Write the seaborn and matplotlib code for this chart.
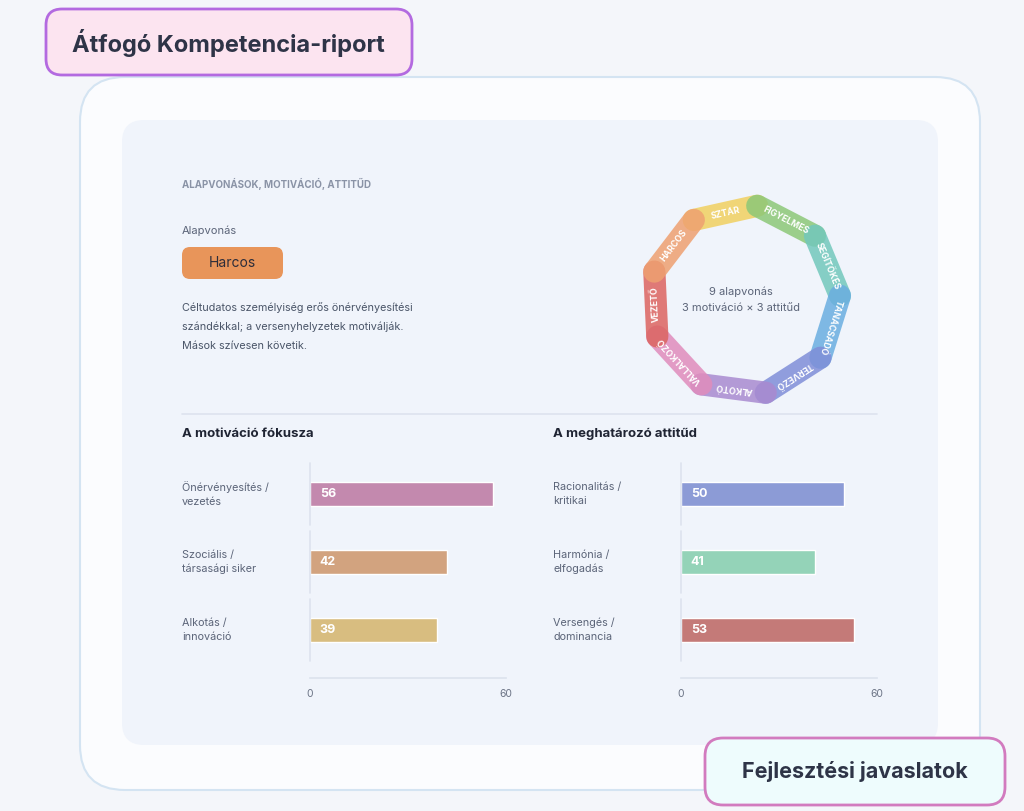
import numpy as np
import pandas as pd
import matplotlib; matplotlib.use("Agg")
import matplotlib.pyplot as plt
from matplotlib.patches import FancyBboxPatch
import seaborn as sns

sns.set_theme(style="white")
plt.rcParams["font.family"] = ["Inter", "DejaVu Sans"]

# ── Adatok ───────────────────────────────────────────────────────────────
motiv_labels = ["Önérvényesítés /\nvezetés", "Szociális /\ntársasági siker", "Alkotás /\ninnováció"]
motiv_values = [56, 42, 39]
motiv_colors = ["#c389ae", "#d2a37f", "#d8bd80"]

attit_labels = ["Racionalitás /\nkritikai", "Harmónia /\nelfogadás", "Versengés /\ndominancia"]
attit_values = [50, 41, 53]
attit_colors = ["#8c9bd6", "#94d3b8", "#c47a78"]

ring_labels = ["SZTÁR", "FIGYELMES", "SEGÍTŐKÉS", "TANÁCSADÓ", "TERVEZŐ",
               "ALKOTÓ", "VÁLLALKOZÓ", "VEZETŐ", "HARCOS"]
ring_colors = ["#f0d060", "#8cc878", "#72c8bc", "#6aaee0", "#7f8ed8",
               "#a98ad0", "#e08cbc", "#dc6460", "#eea070"]

W, H = 1024, 811
fig = plt.figure(figsize=(W / 100, H / 100), dpi=100)
fig.patch.set_facecolor("#f4f6fa")
bg = fig.add_axes([0, 0, 1, 1])
bg.set_xlim(0, W); bg.set_ylim(H, 0); bg.axis("off")


def rbox(x0, y0, x1, y1, fc, ec, lw=1.2, r=20):
    bg.add_patch(FancyBboxPatch((x0, y0), x1 - x0, y1 - y0,
                                boxstyle=f"round,pad=0,rounding_size={r}",
                                fc=fc, ec=ec, lw=lw))


# kártya + belső panel
rbox(80, 77, 980, 790, "#fbfcfe", "#d4e4f2", 1.5, 45)
rbox(122, 120, 938, 745, "#f0f4fb", "none", 0, 22)

# fejléc doboz
rbox(46, 9, 412, 75, "#fce4f0", "#b36ae0", 2, 16)
bg.text(72, 43, "Átfogó Kompetencia-riport", fontsize=17, fontweight="bold",
        color="#2e3447", va="center")
# alsó gomb
rbox(705, 738, 1005, 805, "#eefcfd", "#d27bbf", 2, 18)
bg.text(855, 772, "Fejlesztési javaslatok", fontsize=15.5, fontweight="bold",
        color="#2e3447", va="center", ha="center")

bg.text(182, 184, "ALAPVONÁSOK, MOTIVÁCIÓ, ATTITŰD", fontsize=7, fontweight="bold",
        color="#8a93a6", va="center")
bg.text(182, 231, "Alapvonás", fontsize=8, color="#5b6478", va="center")
rbox(182, 247, 283, 279, "#e8955a", "none", 0, 8)
bg.text(232, 263, "Harcos", fontsize=10, color="#2d2d3a", ha="center", va="center")
desc = ["Céltudatos személyiség erős önérvényesítési",
        "szándékkal; a versenyhelyzetek motiválják.",
        "Mások szívesen követik."]
for i, line in enumerate(desc):
    bg.text(182, 308 + 19 * i, line, fontsize=7.8, color="#4a5568", va="center")

bg.plot([182, 877], [414, 414], color="#dde3ee", lw=1.2)
bg.text(182, 434, "A motiváció fókusza", fontsize=9.5, fontweight="bold",
        color="#1f2433", va="center")
bg.text(553, 434, "A meghatározó attitűd", fontsize=9.5, fontweight="bold",
        color="#1f2433", va="center")

# ── Gyűrű (kilencszög) ────────────────────────────────────────────────────
cx, cy, R = 745, 300, 95
angles = np.deg2rad(122.6 - 40 * np.arange(10))
vx = cx + R * np.cos(angles)
vy = cy - R * np.sin(angles)
for i, (lab, col) in enumerate(zip(ring_labels, ring_colors)):
    bg.plot([vx[i], vx[i + 1]], [vy[i], vy[i + 1]], color=col, lw=16,
            alpha=0.85, solid_capstyle="round")
    ang = np.degrees(np.arctan2(-(vy[i + 1] - vy[i]), vx[i + 1] - vx[i]))
    bg.text((vx[i] + vx[i + 1]) / 2, (vy[i] + vy[i + 1]) / 2, lab, rotation=ang,
            rotation_mode="anchor", ha="center", va="center", fontsize=6.3,
            fontweight="bold", color="white")
bg.text(741, 292, "9 alapvonás", fontsize=8, color="#5b6478", ha="center", va="center")
bg.text(741, 308, "3 motiváció × 3 attitűd", fontsize=8, color="#5b6478",
        ha="center", va="center")


# ── Oszlopdiagramok ──────────────────────────────────────────────────────
def bar_panel(x0, labels, values, colors, label_x):
    ax = fig.add_axes([x0 / W, 1 - 677.6 / H, 196 / W, 217.6 / H])
    df = pd.DataFrame({"cat": labels, "val": values})
    sns.barplot(data=df, x="val", y="cat", hue="cat", palette=colors,
                legend=False, width=0.35, ax=ax, saturation=1)
    ax.set_xlim(0, 60); ax.set_ylim(2.7, -0.5)
    ax.patch.set_alpha(0)
    for s in ["top", "right", "left"]:
        ax.spines[s].set_visible(False)
    ax.spines["bottom"].set_color("#dde3ee")
    for i in range(len(values)):
        ax.plot([0, 0], [i - 0.45, i + 0.45], color="#dde3ee", lw=1.2, clip_on=False)
    ax.set_xticks([0, 60]); ax.set_yticks([])
    ax.tick_params(axis="x", length=0, labelsize=7.5, labelcolor="#6b7385", pad=8)
    ax.set_xlabel(""); ax.set_ylabel("")
    for i, v in enumerate(values):
        ax.text(3, i, str(v), color="white", fontweight="bold", fontsize=9, va="center")
        bg.text(label_x, 494 + 68 * i, labels[i], fontsize=7.8, color="#5b6478",
                va="center", linespacing=1.5)
    return ax


bar_panel(310, motiv_labels, motiv_values, motiv_colors, 182)
bar_panel(681, attit_labels, attit_values, attit_colors, 553)

fig.savefig("out.png", dpi=100)
